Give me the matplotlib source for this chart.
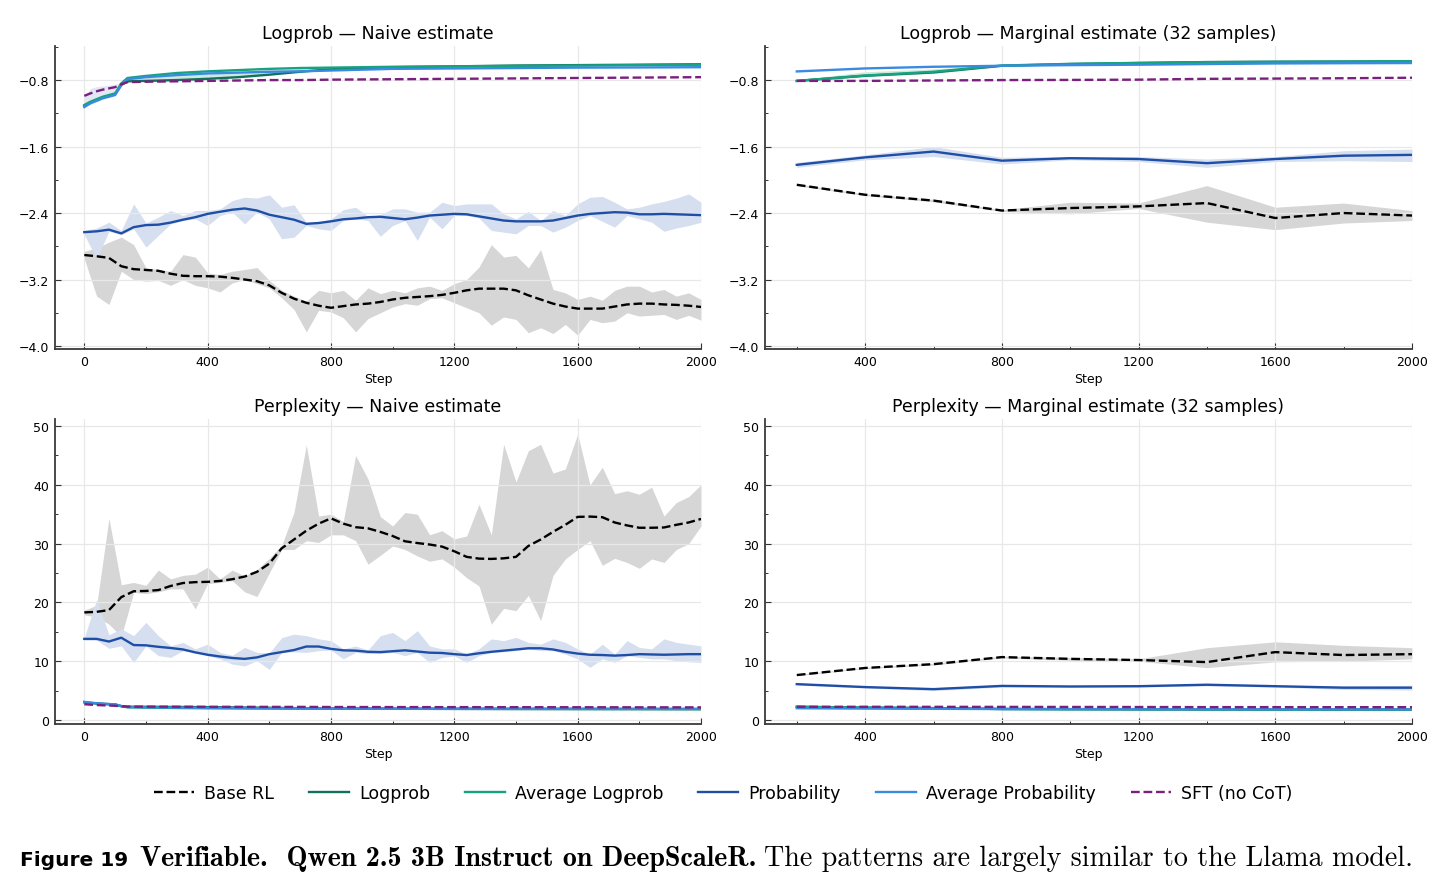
import numpy as np
import matplotlib
matplotlib.use("Agg")
import matplotlib.pyplot as plt
from matplotlib.ticker import AutoMinorLocator, MultipleLocator

# ---- data -------------------------------------------------------------
steps = np.arange(0, 2001, 40)          # naive estimate, every 40 steps
steps_top = [0, 20, 40, 60, 80, 100, 120, 140, 200, 300, 400, 500, 600, 700,
             800, 1000, 1200, 1400, 1600, 1800, 2000]
steps_marg = [200, 400, 600, 800, 1000, 1200, 1400, 1600, 1800, 2000]

# Logprob, naive
base_lp = [-2.905, -2.92, -2.94, -3.04, -3.075, -3.085, -3.095, -3.13, -3.155, -3.16,
           -3.16, -3.165, -3.18, -3.20, -3.22, -3.27, -3.36, -3.43, -3.48, -3.515,
           -3.54, -3.52, -3.50, -3.49, -3.47, -3.44, -3.42, -3.41, -3.40, -3.385,
           -3.36, -3.33, -3.31, -3.31, -3.31, -3.33, -3.39, -3.44, -3.49, -3.525,
           -3.55, -3.55, -3.55, -3.525, -3.50, -3.49, -3.49, -3.50, -3.505, -3.515, -3.53]
base_lp_lo = [-2.95, -3.40, -3.50, -3.10, -3.20, -3.22, -3.21, -3.27, -3.20, -3.27,
              -3.30, -3.35, -3.24, -3.20, -3.25, -3.30, -3.42, -3.56, -3.83, -3.57,
              -3.59, -3.66, -3.83, -3.67, -3.60, -3.53, -3.49, -3.51, -3.43, -3.42,
              -3.48, -3.54, -3.60, -3.75, -3.65, -3.68, -3.84, -3.78, -3.85, -3.74,
              -3.87, -3.68, -3.72, -3.70, -3.60, -3.64, -3.63, -3.62, -3.68, -3.63, -3.69]
base_lp_hi = [-2.86, -2.82, -2.75, -2.69, -2.78, -3.06, -3.08, -3.10, -2.90, -2.93,
              -3.12, -3.14, -3.10, -3.08, -3.055, -3.21, -3.33, -3.40, -3.46, -3.33,
              -3.36, -3.33, -3.45, -3.30, -3.37, -3.33, -3.36, -3.30, -3.28, -3.33,
              -3.25, -3.20, -3.05, -2.78, -2.93, -2.91, -3.06, -2.84, -3.32, -3.36,
              -3.44, -3.40, -3.45, -3.33, -3.28, -3.28, -3.35, -3.32, -3.40, -3.36, -3.44]
prob_lp = [-2.63, -2.62, -2.60, -2.645, -2.57, -2.545, -2.54, -2.515, -2.48, -2.45,
           -2.41, -2.385, -2.36, -2.345, -2.37, -2.42, -2.45, -2.48, -2.53, -2.52,
           -2.50, -2.475, -2.465, -2.45, -2.445, -2.46, -2.475, -2.455, -2.43, -2.42,
           -2.41, -2.415, -2.44, -2.465, -2.49, -2.50, -2.50, -2.50, -2.49, -2.46,
           -2.43, -2.41, -2.40, -2.39, -2.395, -2.415, -2.415, -2.41, -2.415, -2.42, -2.425]
prob_lp_lo = [-2.66, -2.95, -2.62, -2.66, -2.59, -2.81, -2.67, -2.53, -2.49, -2.47,
              -2.55, -2.43, -2.39, -2.53, -2.39, -2.47, -2.71, -2.69, -2.55, -2.59,
              -2.61, -2.49, -2.47, -2.49, -2.68, -2.55, -2.49, -2.73, -2.45, -2.59,
              -2.43, -2.43, -2.46, -2.61, -2.63, -2.65, -2.55, -2.55, -2.63, -2.57,
              -2.49, -2.43, -2.50, -2.57, -2.43, -2.47, -2.51, -2.62, -2.58, -2.55, -2.51]
prob_lp_hi = [-2.61, -2.58, -2.51, -2.61, -2.29, -2.52, -2.45, -2.37, -2.43, -2.37,
              -2.37, -2.35, -2.25, -2.21, -2.22, -2.18, -2.33, -2.30, -2.51, -2.51,
              -2.47, -2.36, -2.33, -2.44, -2.42, -2.35, -2.35, -2.39, -2.39, -2.27,
              -2.31, -2.29, -2.29, -2.29, -2.41, -2.47, -2.38, -2.49, -2.37, -2.43,
              -2.29, -2.21, -2.20, -2.27, -2.35, -2.33, -2.29, -2.26, -2.22, -2.17, -2.27]
logp_lp = [-1.11, -1.07, -1.04, -1.01, -0.99, -0.97, -0.86, -0.815, -0.81, -0.80, -0.785,
           -0.765, -0.735, -0.70, -0.67, -0.645, -0.635, -0.625, -0.62, -0.615, -0.61]
logp_lp_hi = [-1.09, -1.05, -1.02, -0.99, -0.97, -0.95, -0.84, -0.79, -0.77, -0.74, -0.72,
              -0.70, -0.675, -0.66, -0.65, -0.635, -0.628, -0.62, -0.615, -0.61, -0.605]
avg_logp_lp = [-1.10, -1.06, -1.03, -1.00, -0.98, -0.96, -0.84, -0.775, -0.75, -0.715, -0.695,
               -0.68, -0.665, -0.655, -0.65, -0.64, -0.635, -0.63, -0.625, -0.62, -0.615]
avg_prob_lp = [-1.125, -1.08, -1.05, -1.02, -1.00, -0.98, -0.86, -0.79, -0.765, -0.74, -0.72,
               -0.71, -0.70, -0.695, -0.685, -0.665, -0.66, -0.655, -0.65, -0.648, -0.645]
avg_prob_lp_hi = [-1.00, -0.90, -0.88, -0.87, -0.86, -0.85, -0.82, -0.775, -0.755, -0.735, -0.715,
                  -0.705, -0.695, -0.69, -0.68, -0.66, -0.655, -0.65, -0.645, -0.643, -0.64]
sft_lp = [-0.99, -0.96, -0.935, -0.915, -0.90, -0.885, -0.85, -0.825, -0.82, -0.815, -0.81,
          -0.805, -0.80, -0.80, -0.795, -0.79, -0.785, -0.78, -0.775, -0.77, -0.765]

# Perplexity, naive
base_pp = [18.3, 18.4, 18.7, 20.9, 21.9, 21.95, 22.1, 22.8, 23.3, 23.45,
           23.5, 23.65, 23.95, 24.4, 25.2, 26.6, 29.2, 30.7, 32.2, 33.4,
           34.3, 33.4, 32.8, 32.6, 32.0, 31.3, 30.4, 30.1, 29.85, 29.5,
           28.7, 27.75, 27.45, 27.4, 27.5, 27.75, 29.6, 30.7, 32.0, 33.2,
           34.55, 34.6, 34.5, 33.6, 33.1, 32.7, 32.7, 32.75, 33.2, 33.6, 34.2]
base_pp_lo = [17.9, 17.5, 16.3, 14.2, 21.7, 21.5, 21.8, 22.3, 22.3, 18.9,
              23.2, 23.4, 23.7, 21.8, 21.0, 25.0, 29.0, 29.0, 30.5, 30.2,
              31.5, 31.5, 30.5, 26.5, 28.0, 29.6, 29.0, 27.9, 27.0, 27.4,
              26.0, 24.2, 22.8, 16.3, 19.0, 18.6, 21.2, 16.9, 24.6, 27.4,
              29.0, 30.5, 26.3, 27.5, 26.8, 25.8, 27.4, 26.8, 29.0, 30.0, 33.0]
base_pp_hi = [18.7, 19.5, 34.3, 23.0, 23.4, 22.9, 25.5, 24.0, 24.6, 24.8,
              26.0, 24.0, 25.5, 24.5, 25.6, 27.5, 29.7, 35.3, 46.8, 34.7,
              35.0, 33.8, 45.0, 41.0, 34.6, 33.0, 35.3, 35.0, 31.5, 32.2,
              30.8, 31.3, 36.7, 31.5, 46.9, 40.5, 45.8, 46.9, 42.0, 42.7,
              48.6, 40.0, 43.0, 38.5, 39.0, 38.4, 39.6, 34.7, 37.0, 38.0, 40.0]
prob_pp = [13.8, 13.8, 13.35, 14.0, 12.75, 12.7, 12.45, 12.25, 12.0, 11.5,
           11.1, 10.8, 10.55, 10.4, 10.65, 11.2, 11.55, 11.9, 12.5, 12.5,
           12.1, 11.85, 11.8, 11.6, 11.55, 11.7, 11.85, 11.65, 11.45, 11.4,
           11.2, 11.05, 11.35, 11.6, 11.8, 12.0, 12.2, 12.2, 12.0, 11.6,
           11.3, 11.1, 11.05, 10.95, 11.05, 11.2, 11.15, 11.1, 11.15, 11.2, 11.2]
prob_pp_lo = [13.6, 13.6, 12.2, 12.6, 9.8, 12.6, 10.95, 10.65, 11.8, 11.5,
              10.95, 10.4, 9.5, 9.2, 10.1, 8.6, 11.5, 11.6, 11.5, 11.8,
              11.9, 10.4, 11.5, 11.3, 11.3, 11.5, 10.95, 11.5, 9.8, 10.65,
              10.9, 9.8, 10.95, 11.5, 11.6, 11.8, 12.1, 11.8, 11.8, 11.2,
              10.4, 8.95, 10.4, 9.8, 10.95, 10.65, 10.4, 10.4, 10.1, 9.9, 9.8]
prob_pp_hi = [14.0, 20.5, 14.5, 15.5, 14.35, 16.6, 14.35, 12.6, 13.2, 12.1,
              12.9, 11.5, 11.0, 12.35, 11.5, 11.4, 14.0, 14.6, 14.35, 13.8,
              13.5, 12.1, 12.6, 11.9, 14.35, 14.9, 13.5, 15.2, 12.6, 12.1,
              12.1, 11.2, 12.1, 13.8, 13.5, 14.05, 13.2, 12.9, 13.8, 13.2,
              12.1, 11.2, 12.9, 11.2, 13.5, 12.35, 12.1, 13.8, 13.2, 12.9, 12.6]
logp_pp = [3.05, 2.92, 2.83, 2.75, 2.70, 2.64, 2.36, 2.26, 2.25, 2.22, 2.19,
           2.14, 2.08, 2.01, 1.95, 1.91, 1.89, 1.87, 1.86, 1.85, 1.84]
avg_logp_pp = [3.00, 2.88, 2.80, 2.72, 2.67, 2.61, 2.33, 2.16, 2.11, 2.04, 2.00,
               1.97, 1.94, 1.93, 1.92, 1.90, 1.89, 1.88, 1.87, 1.86, 1.85]
avg_prob_pp = [3.08, 2.94, 2.86, 2.77, 2.72, 2.66, 2.38, 2.20, 2.15, 2.10, 2.05,
               2.03, 2.01, 2.00, 1.98, 1.94, 1.93, 1.92, 1.92, 1.91, 1.91]
sft_pp = [2.69, 2.61, 2.55, 2.50, 2.46, 2.42, 2.34, 2.28, 2.27, 2.26, 2.25,
          2.24, 2.23, 2.23, 2.21, 2.20, 2.19, 2.18, 2.17, 2.16, 2.15]

# Logprob, marginal (32 samples)
base_mlp = [-2.06, -2.18, -2.25, -2.37, -2.34, -2.32, -2.28, -2.46, -2.40, -2.43]
base_mlp_lo = [-2.07, -2.19, -2.265, -2.38, -2.41, -2.345, -2.51, -2.60, -2.52, -2.49]
base_mlp_hi = [-2.05, -2.17, -2.235, -2.36, -2.27, -2.28, -2.07, -2.33, -2.28, -2.37]
prob_mlp = [-1.82, -1.73, -1.66, -1.77, -1.74, -1.75, -1.80, -1.75, -1.71, -1.70]
prob_mlp_lo = [-1.85, -1.76, -1.72, -1.81, -1.76, -1.78, -1.85, -1.78, -1.77, -1.78]
prob_mlp_hi = [-1.79, -1.70, -1.60, -1.73, -1.72, -1.72, -1.75, -1.72, -1.65, -1.63]
logp_mlp = [-0.81, -0.748, -0.708, -0.628, -0.607, -0.595, -0.583, -0.58, -0.578, -0.575]
logp_mlp_lo = [-0.82, -0.76, -0.72, -0.635, -0.612, -0.60, -0.59, -0.585, -0.583, -0.58]
logp_mlp_hi = [-0.80, -0.70, -0.665, -0.62, -0.60, -0.59, -0.578, -0.573, -0.571, -0.566]
avg_logp_mlp = [-0.81, -0.745, -0.70, -0.625, -0.605, -0.593, -0.585, -0.58, -0.577, -0.572]
avg_prob_mlp = [-0.696, -0.66, -0.64, -0.628, -0.62, -0.615, -0.607, -0.60, -0.597, -0.595]
sft_mlp = [-0.81, -0.81, -0.805, -0.80, -0.798, -0.795, -0.785, -0.782, -0.778, -0.772]

# Perplexity, marginal (32 samples)
base_mpp = [7.65, 8.85, 9.5, 10.7, 10.4, 10.2, 9.85, 11.55, 11.05, 11.2]
base_mpp_lo = [7.55, 8.75, 9.35, 10.55, 10.15, 10.0, 8.9, 9.9, 10.0, 10.4]
base_mpp_hi = [7.75, 8.95, 9.65, 10.85, 10.65, 10.4, 12.3, 13.3, 12.7, 12.3]
prob_mpp = [6.1, 5.6, 5.25, 5.8, 5.7, 5.75, 6.0, 5.75, 5.5, 5.5]
prob_mpp_lo = [5.95, 5.45, 5.0, 5.6, 5.6, 5.6, 5.8, 5.6, 5.2, 5.1]
prob_mpp_hi = [6.25, 5.75, 5.5, 6.0, 5.8, 5.9, 6.2, 5.9, 5.8, 5.9]
logp_mpp = [2.25, 2.12, 2.03, 1.87, 1.84, 1.81, 1.79, 1.78, 1.78, 1.77]
avg_logp_mpp = [2.24, 2.10, 2.01, 1.87, 1.83, 1.81, 1.79, 1.78, 1.77, 1.77]
avg_prob_mpp = [2.00, 1.94, 1.90, 1.87, 1.86, 1.85, 1.84, 1.83, 1.83, 1.81]
sft_mpp = [2.25, 2.25, 2.24, 2.23, 2.22, 2.21, 2.19, 2.19, 2.18, 2.18]

# ---- style -------------------------------------------------------------
C_BASE = 'black'
C_LOGP = '#13705a'
C_AVG_LOGP = '#16a37e'
C_PROB = '#1f4ea6'
C_AVG_PROB = '#3a8ae0'
C_SFT = '#7a1f7d'
B_GRAY = '#d6d6d6'
B_BLUE = '#d5dff0'
B_GREEN = '#cfe8de'
LW = 1.7

plt.rcParams['font.family'] = ['DejaVu Sans']

W, H = 1448, 887
fig = plt.figure(figsize=(W / 100, H / 100), dpi=100)


def px_axes(l, t, r, b):
    return fig.add_axes([l / W, 1 - b / H, (r - l) / W, (b - t) / H])


def style(ax, title, ylim, xlim, ymaj, xticks):
    ax.set_title(title, fontsize=12.5, pad=6)
    ax.set_xlim(*xlim)
    ax.set_ylim(*ylim)
    ax.yaxis.set_major_locator(MultipleLocator(ymaj))
    ax.set_xticks(xticks)
    ax.xaxis.set_minor_locator(MultipleLocator(200))
    ax.yaxis.set_minor_locator(AutoMinorLocator(2))
    ax.grid(True, which='major', color='#e8e8e8', lw=0.9, zorder=0)
    for s in ['top', 'right']:
        ax.spines[s].set_visible(False)
    for s in ['left', 'bottom']:
        ax.spines[s].set_color('#3a3a3a')
        ax.spines[s].set_linewidth(1.3)
    ax.tick_params(which='major', direction='in', length=4, width=0.8,
                   color='#333333', labelsize=9, pad=4)
    ax.tick_params(which='minor', direction='in', length=2.5, width=0.7,
                   color='#333333')
    ax.set_xlabel('Step', fontsize=9, labelpad=3)


def draw(ax, xs, xt, base, blo, bhi, prob, plo, phi, logp, avg_logp, avg_prob, sft,
         glo=None, ghi=None, bl_hi=None):
    ax.fill_between(xs, blo, bhi, color=B_GRAY, lw=0, zorder=1)
    ax.fill_between(xs, plo, phi, color=B_BLUE, lw=0, zorder=1)
    if glo is not None:
        ax.fill_between(xt, glo, ghi, color=B_GREEN, lw=0, zorder=1)
    if bl_hi is not None:
        ax.fill_between(xt, avg_prob, bl_hi, color=B_BLUE, lw=0, alpha=0.7, zorder=1)
    h = []
    h += ax.plot(xs, base, color=C_BASE, lw=LW, ls='--', label='Base RL', zorder=3)
    h += ax.plot(xt, logp, color=C_LOGP, lw=LW, label='Logprob', zorder=3)
    h += ax.plot(xt, avg_logp, color=C_AVG_LOGP, lw=LW, label='Average Logprob', zorder=3)
    h += ax.plot(xs, prob, color=C_PROB, lw=LW, label='Probability', zorder=3)
    h += ax.plot(xt, avg_prob, color=C_AVG_PROB, lw=LW, label='Average Probability', zorder=3)
    h += ax.plot(xt, sft, color=C_SFT, lw=LW, ls='--', label='SFT (no CoT)', zorder=3)
    return h


lp_ylim = (-4.036, -0.39)
pp_ylim = (-0.68, 51.2)
naive_xlim = (-95, 2000)
marg_xlim = (107, 2000)
naive_xt = [0, 400, 800, 1200, 1600, 2000]
marg_xt = [400, 800, 1200, 1600, 2000]

ax1 = px_axes(55, 47, 701, 350)
handles = draw(ax1, steps, steps_top, base_lp, base_lp_lo, base_lp_hi,
               prob_lp, prob_lp_lo, prob_lp_hi, logp_lp, avg_logp_lp, avg_prob_lp, sft_lp,
               glo=logp_lp, ghi=logp_lp_hi, bl_hi=avg_prob_lp_hi)
style(ax1, 'Logprob — Naive estimate', lp_ylim, naive_xlim, 0.8, naive_xt)

ax2 = px_axes(765, 47, 1412, 350)
draw(ax2, steps_marg, steps_marg, base_mlp, base_mlp_lo, base_mlp_hi,
     prob_mlp, prob_mlp_lo, prob_mlp_hi, logp_mlp, avg_logp_mlp, avg_prob_mlp, sft_mlp,
     glo=logp_mlp_lo, ghi=logp_mlp_hi)
style(ax2, 'Logprob — Marginal estimate (32 samples)', lp_ylim, marg_xlim, 0.8, marg_xt)

ax3 = px_axes(55, 420, 701, 725)
draw(ax3, steps, steps_top, base_pp, base_pp_lo, base_pp_hi,
     prob_pp, prob_pp_lo, prob_pp_hi, logp_pp, avg_logp_pp, avg_prob_pp, sft_pp)
style(ax3, 'Perplexity — Naive estimate', pp_ylim, naive_xlim, 10, naive_xt)

ax4 = px_axes(765, 420, 1412, 725)
draw(ax4, steps_marg, steps_marg, base_mpp, base_mpp_lo, base_mpp_hi,
     prob_mpp, prob_mpp_lo, prob_mpp_hi, logp_mpp, avg_logp_mpp, avg_prob_mpp, sft_mpp)
style(ax4, 'Perplexity — Marginal estimate (32 samples)', pp_ylim, marg_xlim, 10, marg_xt)

for ax in (ax1, ax2):
    ax.yaxis.set_major_formatter(matplotlib.ticker.FuncFormatter(
        lambda v, p: f'{v:.1f}'.replace('-', '\u2212')))

fig.legend(handles=handles, loc='center', bbox_to_anchor=(723 / W, 1 - 794 / H),
           ncol=6, frameon=False, fontsize=12.5, handlelength=2.3,
           handletextpad=0.6, columnspacing=2.0)

# ---- caption -----------------------------------------------------------
fig.canvas.draw()
rend = fig.canvas.get_renderer()
cap_y = 1 - 866 / H
parts = [
    ('Figure 19', dict(family='DejaVu Sans', weight='bold', size=14.5), 12),
    ('Verifiable.  Qwen 2.5 3B Instruct on DeepScaleR.', dict(family='cmb10', size=20.2), 8),
    ('The patterns are largely similar to the Llama model.', dict(family='cmr10', size=20.2), 0),
]
x = 20 / W
for txt, kw, gap in parts:
    t = fig.text(x, cap_y, txt, va='baseline', ha='left', **kw)
    bb = t.get_window_extent(renderer=rend)
    x += (bb.width + gap) / W

fig.savefig('out.png', dpi=100)
